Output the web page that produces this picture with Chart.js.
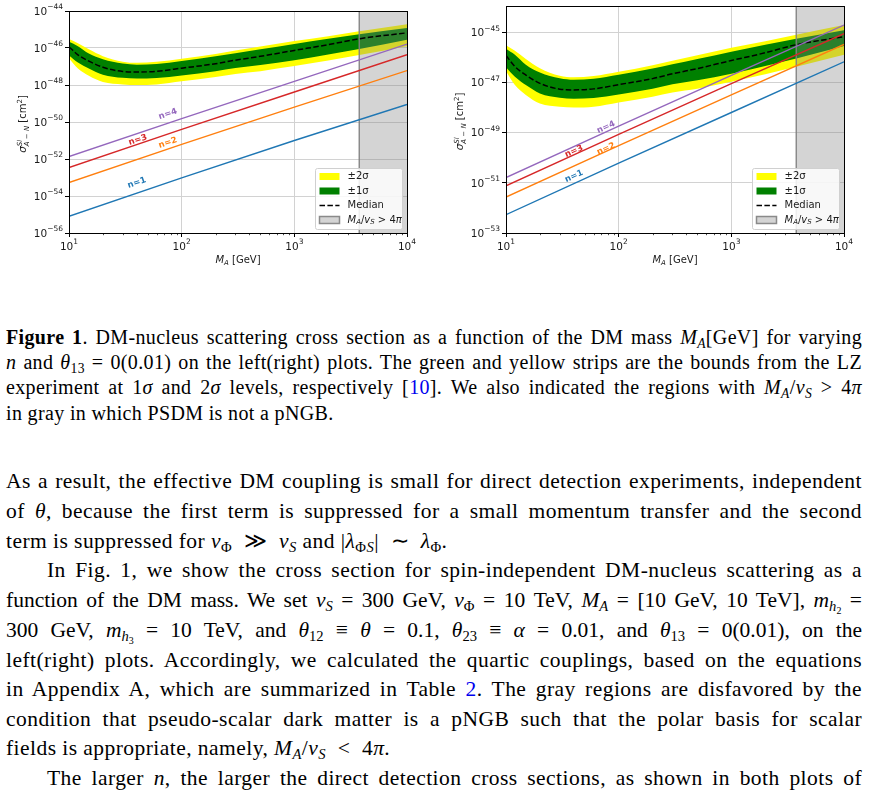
<!DOCTYPE html>
<html>
<head>
<meta charset="utf-8">
<script src="https://cdn.jsdelivr.net/npm/chart.js@4.4.1/dist/chart.umd.min.js"></script>
<style>
  body { margin: 0; background: #fff; width: 887px; height: 796px; overflow: hidden; position: relative; font-family: "Liberation Serif", serif; color: #000; }
  #left { position: absolute; left: 0; top: 0; }
  #right { position: absolute; left: 440px; top: 0; }
  .ln { position: absolute; left: 6px; width: 856px; line-height: 24px; font-size: 21.5px; letter-spacing: 0.45px; white-space: nowrap; text-align: justify; text-align-last: justify; }
  .cap { font-size: 20px; letter-spacing: 0.35px; }
  .last { text-align-last: left; }
  .ind { left: 47px; width: 815px; }
  .tight { letter-spacing: 0; }
  sub { font-size: 68%; vertical-align: -0.28em; line-height: 0; }
  a { color: #0000ee; text-decoration: none; }
</style>
</head>
<body>
<canvas id="left" width="435" height="272" style="width:435px;height:272px"></canvas>
<canvas id="right" width="447" height="272" style="width:447px;height:272px"></canvas>

<div class="ln cap" style="top:325px"><b>Figure 1</b>. DM-nucleus scattering cross section as a function of the DM mass <i>M<sub>A</sub></i>[GeV] for varying</div>
<div class="ln cap" style="top:350px"><i>n</i> and <i>θ</i><sub>13</sub> = 0(0.01) on the left(right) plots. The green and yellow strips are the bounds from the LZ</div>
<div class="ln cap" style="top:375px">experiment at 1<i>σ</i> and 2<i>σ</i> levels, respectively [<a>10</a>]. We also indicated the regions with <i>M<sub>A</sub></i>/<i>v<sub>S</sub></i> &gt; 4<i>π</i></div>
<div class="ln cap last" style="top:401px">in gray in which PSDM is not a pNGB.</div>

<div class="ln" style="top:469px">As a result, the effective DM coupling is small for direct detection experiments, independent</div>
<div class="ln" style="top:499px">of <i>θ</i>, because the first term is suppressed for a small momentum transfer and the second</div>
<div class="ln last" style="top:529px">term is suppressed for <i>v</i><sub>Φ</sub> &nbsp;≫&nbsp; <i>v<sub>S</sub></i> and |<i>λ</i><sub>Φ<i>S</i></sub>| &nbsp;∼&nbsp; <i>λ</i><sub>Φ</sub>.</div>
<div class="ln ind" style="top:558px">In Fig. 1, we show the cross section for spin-independent DM-nucleus scattering as a</div>
<div class="ln tight" style="top:588px">function of the DM mass. We set <i>v<sub>S</sub></i> = 300 GeV, <i>v</i><sub>Φ</sub> = 10 TeV, <i>M<sub>A</sub></i> = [10 GeV, 10 TeV], <i>m</i><sub><i>h</i><sub>2</sub></sub> =</div>
<div class="ln tight" style="top:618px">300 GeV, <i>m</i><sub><i>h</i><sub>3</sub></sub> = 10 TeV, and <i>θ</i><sub>12</sub> ≡ <i>θ</i> = 0.1, <i>θ</i><sub>23</sub> ≡ <i>α</i> = 0.01, and <i>θ</i><sub>13</sub> = 0(0.01), on the</div>
<div class="ln" style="top:648px">left(right) plots. Accordingly, we calculated the quartic couplings, based on the equations</div>
<div class="ln" style="top:677px">in Appendix A, which are summarized in Table <a>2</a>. The gray regions are disfavored by the</div>
<div class="ln" style="top:707px">condition that pseudo-scalar dark matter is a pNGB such that the polar basis for scalar</div>
<div class="ln last" style="top:736px">fields is appropriate, namely, <i>M<sub>A</sub></i>/<i>v<sub>S</sub></i> &nbsp;&lt;&nbsp; 4<i>π</i>.</div>
<div class="ln ind" style="top:766px">The larger <i>n</i>, the larger the direct detection cross sections, as shown in both plots of</div>

<script>
// LZ bounds (shared by both panels)
const massGrid = [10, 12, 15, 20, 30, 40, 60, 100, 200, 300, 500, 1000, 2000, 3770, 10000];
const lzMedian = [1.17e-46, 4.27e-47, 1.95e-47, 9.12e-48, 5.37e-48, 5.01e-48, 5.50e-48, 8.13e-48, 1.41e-47, 2.19e-47, 3.55e-47, 7.41e-47, 1.51e-46, 3.16e-46, 6.61e-46];
const lz1SigHi = [2.19e-46, 1.26e-46, 5.01e-47, 2.45e-47, 1.45e-47, 1.26e-47, 1.38e-47, 2.00e-47, 3.55e-47, 5.25e-47, 8.51e-47, 1.66e-46, 3.16e-46, 5.50e-46, 1.20e-45];
const lz1SigLo = [3.98e-47, 1.66e-47, 7.76e-48, 3.63e-48, 2.45e-48, 2.24e-48, 2.40e-48, 3.31e-48, 5.62e-48, 8.32e-48, 1.20e-47, 2.19e-47, 4.47e-47, 8.91e-47, 2.82e-46];
const lz2SigHi = [3.02e-46, 1.82e-46, 8.51e-47, 3.63e-47, 1.82e-47, 1.58e-47, 1.78e-47, 2.63e-47, 4.79e-47, 7.24e-47, 1.20e-46, 2.40e-46, 4.37e-46, 7.94e-46, 1.91e-45];
const lz2SigLo = [2.82e-47, 7.76e-48, 3.16e-48, 1.45e-48, 1.07e-48, 1.00e-48, 1.07e-48, 1.58e-48, 2.69e-48, 3.98e-48, 5.62e-48, 1.05e-47, 2.09e-47, 4.17e-47, 1.26e-46];

// PSDM cross sections for n = 1..4
const massLine = [10, 100, 1000, 10000];
const leftN1 = [7.94e-56, 9.55e-54, 1.00e-51, 8.91e-50];
const leftN2 = [5.37e-54, 6.17e-52, 6.31e-50, 6.03e-48];
const leftN3 = [3.47e-53, 3.98e-51, 4.17e-49, 4.37e-47];
const leftN4 = [1.35e-52, 1.51e-50, 1.58e-48, 1.62e-46];
const rightN1 = [5.37e-53, 6.03e-51, 6.31e-49, 6.61e-47];
const rightN2 = [2.69e-52, 3.02e-50, 3.16e-48, 3.24e-46];
const rightN3 = [7.59e-52, 8.51e-50, 8.91e-48, 8.71e-46];
const rightN4 = [1.62e-51, 1.82e-49, 1.91e-47, 1.91e-45];

const nLabels = ['n=1', 'n=2', 'n=3', 'n=4'];
const lineColors = ['#1f77b4', '#ff7f0e', '#d62728', '#9467bd'];
const legendLabels = ['±2σ', '±1σ', 'Median'];

const grayStart = 3770; // M_A / v_S = 4 pi
const xTickValues = [10, 100, 1000, 10000];
const xTickExps = ['1', '2', '3', '4'];
const yTickValuesLeft = [1e-56, 1e-54, 1e-52, 1e-50, 1e-48, 1e-46, 1e-44];
const yTickExpsLeft = ['−56', '−54', '−52', '−50', '−48', '−46', '−44'];
const yTickValuesRight = [1e-53, 1e-51, 1e-49, 1e-47, 1e-45];
const yTickExpsRight = ['−53', '−51', '−49', '−47', '−45'];

// where the n= labels sit (data coords)
const labelPosLeft = [[40.1, 5.13e-54], [75.5, 7.41e-52], [40.9, 1.07e-51], [75.5, 2.69e-50]];
const labelPosRight = [[40.1, 1.82e-51], [77.1, 2.24e-50], [40.1, 1.78e-50], [77.1, 1.62e-49]];

const FONT = 'DejaVu Sans';
const TXT = '#1a1a1a';
const GRAY_FILL = 'rgba(128,128,128,0.34)';
const GRAY_EDGE = 'rgba(128,128,128,0.9)';

function pts(xs, ys) {
    return xs.map((x, i) => ({ x: x, y: ys[i] }));
}

// draw a sequence of text runs (for sub/superscripts)
function drawRuns(ctx, runs, x, y, align) {
    let total = 0;
    runs.forEach(r => {
        ctx.font = r.f;
        r.w = ctx.measureText(r.t).width;
        if (r.adv !== false) total += r.w;
    });
    let cx = x;
    if (align === 'center') cx = x - total / 2;
    if (align === 'right') cx = x - total;
    runs.forEach(r => {
        ctx.font = r.f;
        ctx.fillText(r.t, cx, y + (r.dy || 0));
        if (r.adv !== false) cx += r.w;
    });
}

function powerRuns(exp) {
    return [
        { t: '10', f: '10.5px ' + FONT },
        { t: exp, f: '7.5px ' + FONT, dy: -4.5 }
    ];
}

function makePanel(canvasId, cfg) {
    const lines = cfg.lines.map((ys, i) => ({
        data: pts(massLine, ys),
        borderColor: lineColors[i],
        borderWidth: 1.4,
        pointRadius: 0,
        fill: false,
        order: 1
    }));

    const band = { borderWidth: 0, pointRadius: 0, cubicInterpolationMode: 'monotone' };
    const datasets = [
        Object.assign({ data: pts(massGrid, lz2SigHi), fill: '+1', backgroundColor: '#ffff00', order: 10 }, band),
        Object.assign({ data: pts(massGrid, lz2SigLo), fill: false, order: 10 }, band),
        Object.assign({ data: pts(massGrid, lz1SigHi), fill: '+1', backgroundColor: '#008000', order: 9 }, band),
        Object.assign({ data: pts(massGrid, lz1SigLo), fill: false, order: 9 }, band),
        { data: pts([grayStart, 10000], [cfg.yMax, cfg.yMax]), fill: 'start', backgroundColor: GRAY_FILL, borderWidth: 0, pointRadius: 0, order: 8 },
        { data: pts([grayStart, grayStart], [cfg.yMin, cfg.yMax]), fill: false, borderColor: GRAY_EDGE, borderWidth: 1.5, pointRadius: 0, order: 8 },
        { data: pts(massGrid, lzMedian), fill: false, borderColor: '#000', borderWidth: 1.5, borderDash: [5.5, 2.4], pointRadius: 0, cubicInterpolationMode: 'monotone', order: 2 }
    ].concat(lines);

    const decor = {
        id: 'decor_' + canvasId,
        afterDatasetsDraw(chart) {
            const ctx = chart.ctx;
            const a = chart.chartArea;
            const xs = chart.scales.x, ys = chart.scales.y;
            ctx.save();

            // n= labels along the lines
            ctx.font = 'bold 8.5px ' + FONT;
            ctx.textAlign = 'center';
            ctx.textBaseline = 'middle';
            cfg.labelPos.forEach((p, i) => {
                const ln = cfg.lines[i];
                const ax = xs.getPixelForValue(massLine[0]), ay = ys.getPixelForValue(ln[0]);
                const bx = xs.getPixelForValue(massLine[massLine.length - 1]), by = ys.getPixelForValue(ln[ln.length - 1]);
                ctx.save();
                ctx.translate(xs.getPixelForValue(p[0]), ys.getPixelForValue(p[1]));
                ctx.rotate(Math.atan2(by - ay, bx - ax));
                ctx.fillStyle = lineColors[i];
                ctx.fillText(nLabels[i], 0, 0);
                ctx.restore();
            });

            // frame
            ctx.strokeStyle = '#000';
            ctx.lineWidth = 1;
            ctx.strokeRect(Math.round(a.left) + 0.5, Math.round(a.top) + 0.5, Math.round(a.right - a.left), Math.round(a.bottom - a.top));

            // minor ticks on x
            ctx.lineWidth = 0.7;
            [10, 100, 1000].forEach(d => {
                for (let k = 2; k <= 9; k++) {
                    const px = Math.round(xs.getPixelForValue(k * d)) + 0.5;
                    ctx.beginPath();
                    ctx.moveTo(px, a.bottom);
                    ctx.lineTo(px, a.bottom + 2.2);
                    ctx.stroke();
                }
            });

            // tick labels
            ctx.fillStyle = TXT;
            ctx.textAlign = 'left';
            ctx.textBaseline = 'middle';
            xTickValues.forEach((v, i) => {
                drawRuns(ctx, powerRuns(xTickExps[i]), xs.getPixelForValue(v), a.bottom + 14, 'center');
            });
            cfg.yTicks.forEach((v, i) => {
                drawRuns(ctx, powerRuns(cfg.yExps[i]), a.left - 6, ys.getPixelForValue(v) + 1, 'right');
            });

            // legend
            const w = 87, h = 61;
            const x0 = Math.round(a.right - 5 - w) + 0.5, y0 = Math.round(a.bottom - 4 - h) + 0.5;
            ctx.beginPath();
            ctx.roundRect(x0, y0, w, h, 2);
            ctx.fillStyle = 'rgba(255,255,255,0.85)';
            ctx.fill();
            ctx.strokeStyle = '#d0d0d0';
            ctx.lineWidth = 1;
            ctx.stroke();

            const rows = [8, 22.5, 37, 51.5];
            ctx.fillStyle = '#ffff00';
            ctx.fillRect(x0 + 4, y0 + rows[0] - 3.5, 20, 7);
            ctx.fillStyle = '#008000';
            ctx.fillRect(x0 + 4, y0 + rows[1] - 3.5, 20, 7);
            ctx.strokeStyle = '#000';
            ctx.lineWidth = 1.5;
            ctx.setLineDash([5.5, 2.4]);
            ctx.beginPath();
            ctx.moveTo(x0 + 4, y0 + rows[2]);
            ctx.lineTo(x0 + 24, y0 + rows[2]);
            ctx.stroke();
            ctx.setLineDash([]);
            ctx.fillStyle = GRAY_FILL;
            ctx.fillRect(x0 + 4, y0 + rows[3] - 3.5, 20, 7);
            ctx.strokeStyle = GRAY_EDGE;
            ctx.strokeRect(x0 + 4, y0 + rows[3] - 3.5, 20, 7);

            ctx.fillStyle = TXT;
            ctx.font = '10px ' + FONT;
            legendLabels.forEach((t, i) => ctx.fillText(t, x0 + 32, y0 + rows[i]));
            drawRuns(ctx, [
                { t: 'M', f: 'italic 10px ' + FONT },
                { t: 'A', f: 'italic 7px ' + FONT, dy: 2 },
                { t: '/', f: '10px ' + FONT },
                { t: 'v', f: 'italic 10px ' + FONT },
                { t: 'S', f: 'italic 7px ' + FONT, dy: 2 },
                { t: ' > 4', f: '10px ' + FONT },
                { t: 'π', f: 'italic 10px ' + FONT }
            ], x0 + 32, y0 + rows[3], 'left');

            // axis titles
            ctx.textBaseline = 'alphabetic';
            drawRuns(ctx, [
                { t: 'M', f: 'italic 10px ' + FONT },
                { t: 'A', f: 'italic 7px ' + FONT, dy: 2 },
                { t: ' [GeV]', f: '10px ' + FONT }
            ], (a.left + a.right) / 2, 263, 'center');

            ctx.save();
            ctx.translate(cfg.yTitleX, (a.top + a.bottom) / 2 + 2);
            ctx.rotate(-Math.PI / 2);
            drawRuns(ctx, [
                { t: 'σ', f: 'italic 10.5px ' + FONT },
                { t: 'SI', f: 'italic 7px ' + FONT, dy: -4.5, adv: false },
                { t: 'A − N', f: 'italic 7px ' + FONT, dy: 2.5 },
                { t: ' [cm', f: '10px ' + FONT },
                { t: '2', f: '7px ' + FONT, dy: -4 },
                { t: ']', f: '10px ' + FONT }
            ], 0, 0, 'center');
            ctx.restore();

            ctx.restore();
        }
    };

    const gridStyle = { color: '#d2d2d2', lineWidth: 1, drawTicks: true, tickLength: 4, tickColor: '#000', tickWidth: 1 };

    new Chart(document.getElementById(canvasId), {
        type: 'line',
        data: { datasets: datasets },
        options: {
            responsive: false,
            animation: false,
            devicePixelRatio: 1,
            layout: { padding: cfg.padding },
            plugins: { legend: { display: false }, tooltip: { enabled: false } },
            scales: {
                x: {
                    type: 'logarithmic',
                    min: 10,
                    max: 10000,
                    grid: gridStyle,
                    border: { display: true, color: '#000', width: 1 },
                    afterBuildTicks: s => { s.ticks = xTickValues.map(v => ({ value: v })); },
                    afterFit: s => { s.height = 39; },
                    ticks: { display: false, autoSkip: false }
                },
                y: {
                    type: 'logarithmic',
                    min: cfg.yMin,
                    max: cfg.yMax,
                    grid: gridStyle,
                    border: { display: true, color: '#000', width: 1 },
                    afterBuildTicks: s => { s.ticks = cfg.yTicks.map(v => ({ value: v })); },
                    afterFit: s => { s.width = cfg.yAxisWidth; },
                    ticks: { display: false, autoSkip: false }
                }
            }
        },
        plugins: [decor]
    });
}

makePanel('left', {
    lines: [leftN1, leftN2, leftN3, leftN4],
    labelPos: labelPosLeft,
    yMin: 1e-56, yMax: 1e-44,
    yTicks: yTickValuesLeft, yExps: yTickExpsLeft,
    yAxisWidth: 69, yTitleX: 26,
    padding: { left: 0, right: 28, top: 11, bottom: 0 }
});

makePanel('right', {
    lines: [rightN1, rightN2, rightN3, rightN4],
    labelPos: labelPosRight,
    yMin: 1e-53, yMax: 1.1e-44,
    yTicks: yTickValuesRight, yExps: yTickExpsRight,
    yAxisWidth: 66, yTitleX: 23,
    padding: { left: 0, right: 43, top: 6, bottom: 0 }
});
</script>
</body>
</html>
